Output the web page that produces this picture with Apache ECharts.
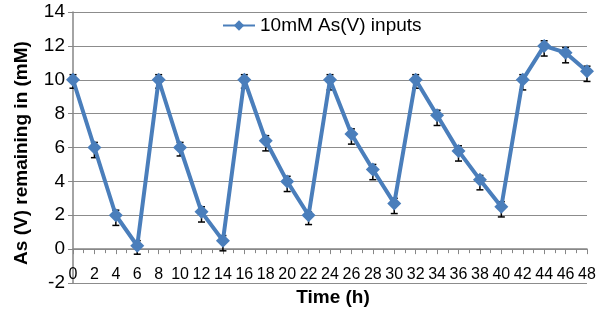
<!DOCTYPE html>
<html>
<head>
<meta charset="utf-8">
<script src="https://cdn.jsdelivr.net/npm/echarts@6/dist/echarts.min.js"></script>
<style>
  html, body { margin: 0; padding: 0; background: #fff; }
  #main { width: 603px; height: 321px; }
</style>
</head>
<body>
<div id="main"></div>
<script>
// sampling times (h)
const hours = [0, 2, 4, 6, 8, 10, 12, 14, 16, 18, 20, 22, 24, 26, 28, 30, 32, 34, 36, 38, 40, 42, 44, 46, 48];
// As(V) remaining (mM)
const remaining = [10, 6, 2, 0.2, 10, 6, 2.2, 0.5, 10, 6.4, 4, 2, 10, 6.8, 4.7, 2.7, 10, 7.9, 5.8, 4.1, 2.5, 10, 12, 11.6, 10.5];
// error bar extents
const errUp   = [0.3, 0.3, 0.3, 0.3, 0.3, 0.3, 0.3, 0.3, 0.3, 0.3, 0.3, 0.2, 0.3, 0.3, 0.3, 0.3, 0.3, 0.3, 0.3, 0.25, 0.3, 0.3, 0.3, 0.3, 0.3];
const errDown = [0.5, 0.6, 0.6, 0.5, 0.5, 0.5, 0.6, 0.6, 0.5, 0.6, 0.6, 0.55, 0.6, 0.6, 0.6, 0.6, 0.5, 0.6, 0.6, 0.6, 0.6, 0.6, 0.6, 0.6, 0.6];

const seriesName = '10mM As(V) inputs';
const blue = '#4A7EBB';
const grey = '#868686';
const font = '"Liberation Sans", Arial, sans-serif';

const lineData = hours.map((h, i) => [h, remaining[i]]);
const errData = hours.map((h, i) => [h, remaining[i] - errDown[i], remaining[i] + errUp[i]]);

const chart = echarts.init(document.getElementById('main'));

chart.setOption({
  animation: false,
  textStyle: { fontFamily: font },
  grid: { left: 73, right: 16, top: 12, bottom: 38, containLabel: false, outerBoundsMode: 'none' },
  legend: {
    data: [seriesName],
    left: 222, top: 16, padding: 0,
    itemWidth: 32, itemHeight: 13,
    textStyle: { fontSize: 19, color: '#000', fontFamily: font }
  },
  xAxis: [
    {
      // axis line sitting on y = 0, with ticks
      type: 'value',
      min: 0, max: 48, interval: 2,
      axisLine: { onZero: true, lineStyle: { color: grey, width: 1.5 } },
      axisTick: { show: true, length: 5, lineStyle: { color: grey, width: 1 } },
      minorTick: { show: true, splitNumber: 2, length: 4, lineStyle: { color: grey } },
      axisLabel: { show: false },
      splitLine: { show: false }
    },
    {
      // labels just under the zero line, plus the axis title
      type: 'value',
      position: 'bottom',
      offset: -34,
      min: 0, max: 48, interval: 2,
      name: 'Time (h)',
      nameLocation: 'middle',
      nameGap: 38,
      nameTextStyle: { fontSize: 19, fontWeight: 'bold', color: '#000', fontFamily: font, padding: [0, 0, 0, 6] },
      axisLine: { show: false },
      axisTick: { show: false },
      axisLabel: { fontSize: 16, color: '#000', margin: 18, fontFamily: font },
      splitLine: { show: false }
    }
  ],
  yAxis: {
    type: 'value',
    min: -2, max: 14, interval: 2,
    name: 'As (V) remaining in (mM)',
    nameLocation: 'middle',
    nameGap: 42,
    nameTextStyle: { fontSize: 19, fontWeight: 'bold', color: '#000', fontFamily: font, padding: [0, 11, 0, 0] },
    axisLine: { show: true, lineStyle: { color: grey, width: 1.5 } },
    axisTick: { show: true, length: 5, lineStyle: { color: grey } },
    axisLabel: { fontSize: 19, color: '#000', margin: 8, fontFamily: font },
    splitLine: { show: true, lineStyle: { color: '#8c8c8c', width: 1.2 } }
  },
  series: [
    {
      name: 'errors',
      type: 'custom',
      z: 1,
      data: errData,
      renderItem: function (params, api) {
        const top = api.coord([api.value(0), api.value(2)]);
        const bot = api.coord([api.value(0), api.value(1)]);
        const w = 3.5;
        const st = { stroke: '#000', lineWidth: 1.5 };
        return {
          type: 'group',
          children: [
            { type: 'line', shape: { x1: top[0], y1: top[1], x2: bot[0], y2: bot[1] }, style: st },
            { type: 'line', shape: { x1: top[0] - w, y1: top[1], x2: top[0] + w, y2: top[1] }, style: st },
            { type: 'line', shape: { x1: bot[0] - w, y1: bot[1], x2: bot[0] + w, y2: bot[1] }, style: st }
          ]
        };
      }
    },
    {
      name: seriesName,
      type: 'line',
      z: 3,
      data: lineData,
      symbol: 'diamond',
      symbolSize: 14,
      itemStyle: { color: blue },
      lineStyle: { color: blue, width: 4 }
    }
  ]
});
</script>
</body>
</html>
